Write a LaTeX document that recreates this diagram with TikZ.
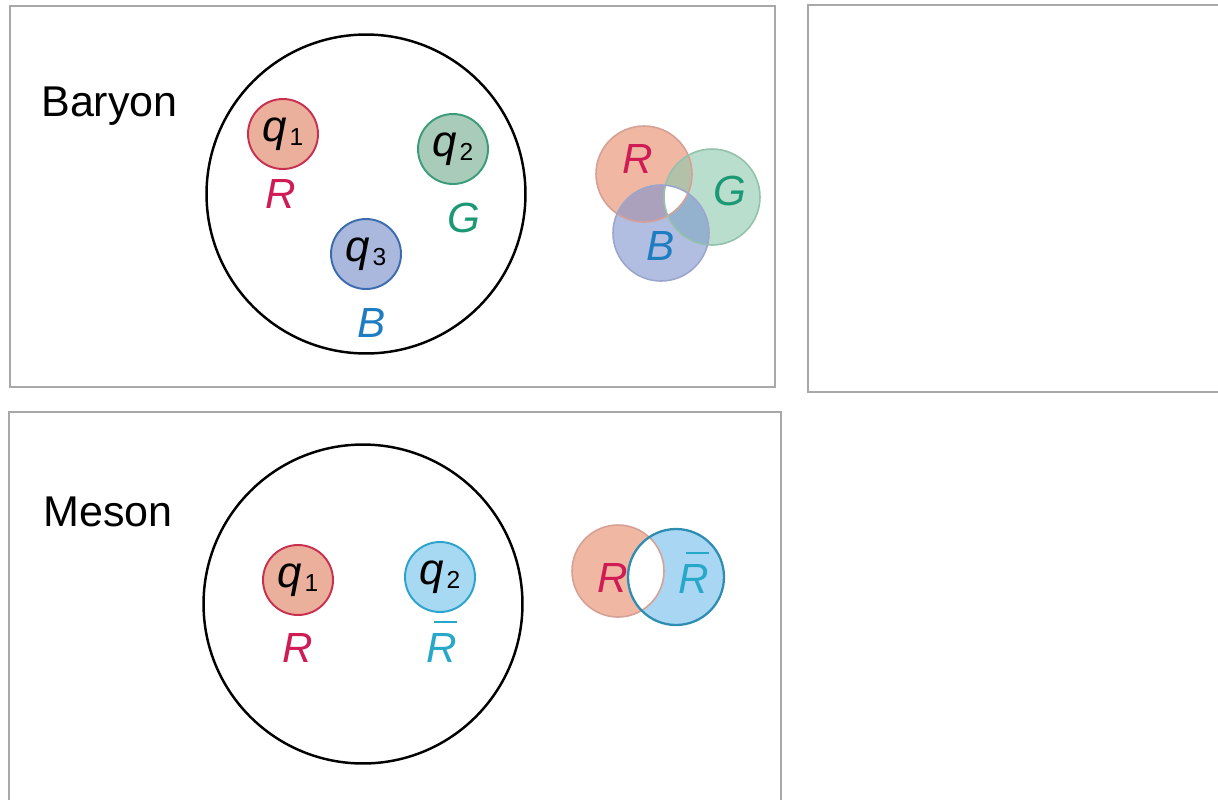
\documentclass[tikz,border=0pt]{standalone}
\usepackage{fontspec}
\setmainfont{Liberation Sans}
\setsansfont{Liberation Sans}
\usetikzlibrary{positioning}

% quark name with its index, upright and lowered
\newcommand{\qname}[1]{{\itshape q}\kern1.5pt\raisebox{-2.5pt}{\fontsize{14}{14}\selectfont #1}}
% anti-red: a short bar well clear of the letter
\newcommand{\antired}{\makebox[0pt][l]{\hspace{4pt}\rule[22pt]{13pt}{1.1pt}}\textit{R}}

\begin{document}
\begin{tikzpicture}[
    x=0.02cm, y=-0.02cm,
    every node/.style={font=\sffamily},
]

% ---------------------------------------------------------------- colours
\definecolor{framegray}{HTML}{A8A8A8}
\definecolor{redtag}{HTML}{D01C55}     % colour charge R
\definecolor{greentag}{HTML}{1B9874}   % colour charge G
\definecolor{bluetag}{HTML}{1E7DC0}    % colour charge B
\definecolor{cyantag}{HTML}{28A8C8}    % anti-red
\definecolor{redfill}{HTML}{EAB09C}
\definecolor{reddraw}{HTML}{C9304F}
\definecolor{greenfill}{HTML}{A8CBBA}
\definecolor{greendraw}{HTML}{3C9C7A}
\definecolor{bluefill}{HTML}{A9B8DC}
\definecolor{bluedraw}{HTML}{3C6CB0}
\definecolor{cyanfill}{HTML}{A8D9F2}
\definecolor{cyandraw}{HTML}{2CA3CC}
% the overlap diagrams (G and B are laid at 0.6 opacity)
\definecolor{lobeR}{HTML}{F0B7A2}
\definecolor{lobeRline}{HTML}{D6A096}
\definecolor{lobeG}{HTML}{8AC8AC}
\definecolor{lobeGline}{HTML}{92C2AC}
\definecolor{lobeB}{HTML}{7D93CF}
\definecolor{lobeBline}{HTML}{9CA6CC}
\definecolor{lobeRbar}{HTML}{A9D7F3}
\definecolor{lobeRbarline}{HTML}{2F8DB2}

% ---------------------------------------------------------------- styles
\tikzset{
    panel/.style={draw=framegray, line width=1.1pt},
    hadron/.style={
        circle, draw=black, line width=1.4pt,
        minimum size=6.38cm, inner sep=0pt,
    },
    quark/.style={
        circle, line width=1.1pt, minimum size=1.4cm, inner sep=0pt,
        font=\sffamily\fontsize{25}{28}\selectfont,
    },
    colourtag/.style={
        inner sep=0pt, anchor=base,
        font=\sffamily\fontsize{24}{28}\selectfont\itshape,
    },
    title/.style={
        inner sep=0pt, anchor=base west,
        font=\sffamily\fontsize{24.5}{28}\selectfont,
    },
    lobe/.style={line width=0.9pt},
}

% ================================================================
% GEOMETRY (1 unit = 1 px of the 1218 x 799 sheet, y downward)
%   baryon panel   x = 10 .. 775, y = 6 .. 387
%   empty panel    x = 808 .. (off sheet), y = 5 .. 392
%   meson panel    x = 9 .. 781, y = 412 .. (off sheet)
% ================================================================
\useasboundingbox (0,0) rectangle (1218,799);
\clip (0,0) rectangle (1218,799);

% ---------------------------------------------------------------- panels
\draw[panel] (10,6) rectangle (775,387);
\draw[panel] (1230,5) -- (808,5) -- (808,392) -- (1230,392);
\draw[panel] (9,810) -- (9,412) -- (781,412) -- (781,810);

% ---------------------------------------------------------------- baryon
\node[title] (baryon) at (41,116) {Baryon};
\node[hadron] (bhad) at (366,194) {};

\node[quark, fill=redfill, draw=reddraw] (bq1) at (283,134) {\qname{1}};
\node[quark, fill=greenfill, draw=greendraw] (bq2) at (453,149) {\qname{2}};
\node[quark, fill=bluefill, draw=bluedraw] (bq3) at (366,254) {\qname{3}};

\node[colourtag, text=redtag] (bR) at (281,208) {R};
\node[colourtag, text=greentag] (bG) at (464,232) {G};
\node[colourtag, text=bluetag] (bB) at (372,337) {B};

% three colours overlap to white
\coordinate (vR) at (644,174);
\coordinate (vG) at (712,197);
\coordinate (vB) at (661,233);

\fill[lobeR] (vR) circle (48);
\fill[lobeG, fill opacity=0.6] (vG) circle (48);
\fill[lobeB, fill opacity=0.6] (vB) circle (48);
\begin{scope}
    \clip (vR) circle (48);
    \clip (vG) circle (48);
    \fill[white] (vB) circle (48);
\end{scope}
\draw[lobe, lobeRline] (vR) circle (48);
\draw[lobe, lobeGline] (vG) circle (48);
\draw[lobe, lobeBline] (vB) circle (48);

\node[colourtag, text=redtag] (vtR) at (638,173) {R};
\node[colourtag, text=greentag] (vtG) at (730,205) {G};
\node[colourtag, text=bluetag] (vtB) at (661,260) {B};

% ---------------------------------------------------------------- meson
\node[title] (meson) at (43,526) {Meson};
\node[hadron] (mhad) at (363,604) {};

\node[quark, fill=redfill, draw=reddraw] (mq1) at (298,580) {\qname{1}};
\node[quark, fill=cyanfill, draw=cyandraw] (mq2) at (440,577) {\qname{2}};

\node[colourtag, text=redtag] (mR) at (298,662) {R};
\node[colourtag, text=cyantag] (mRbar) at (442,662) {\antired};

% colour and anticolour overlap to white
\coordinate (wR) at (618,571);
\coordinate (wRbar) at (676,577);

\fill[lobeR] (wR) circle (46);
\fill[lobeRbar] (wRbar) circle (48);
\begin{scope}
    \clip (wR) circle (46);
    \fill[white] (wRbar) circle (48);
\end{scope}
\draw[lobe, lobeRline] (wR) circle (46);
\draw[lobe, lobeRbarline, line width=1.3pt] (wRbar) circle (48);

\node[colourtag, text=redtag] (wtR) at (613,592) {R};
\node[colourtag, text=cyantag] (wtRbar) at (694,593) {\antired};

\end{tikzpicture}
\end{document}
